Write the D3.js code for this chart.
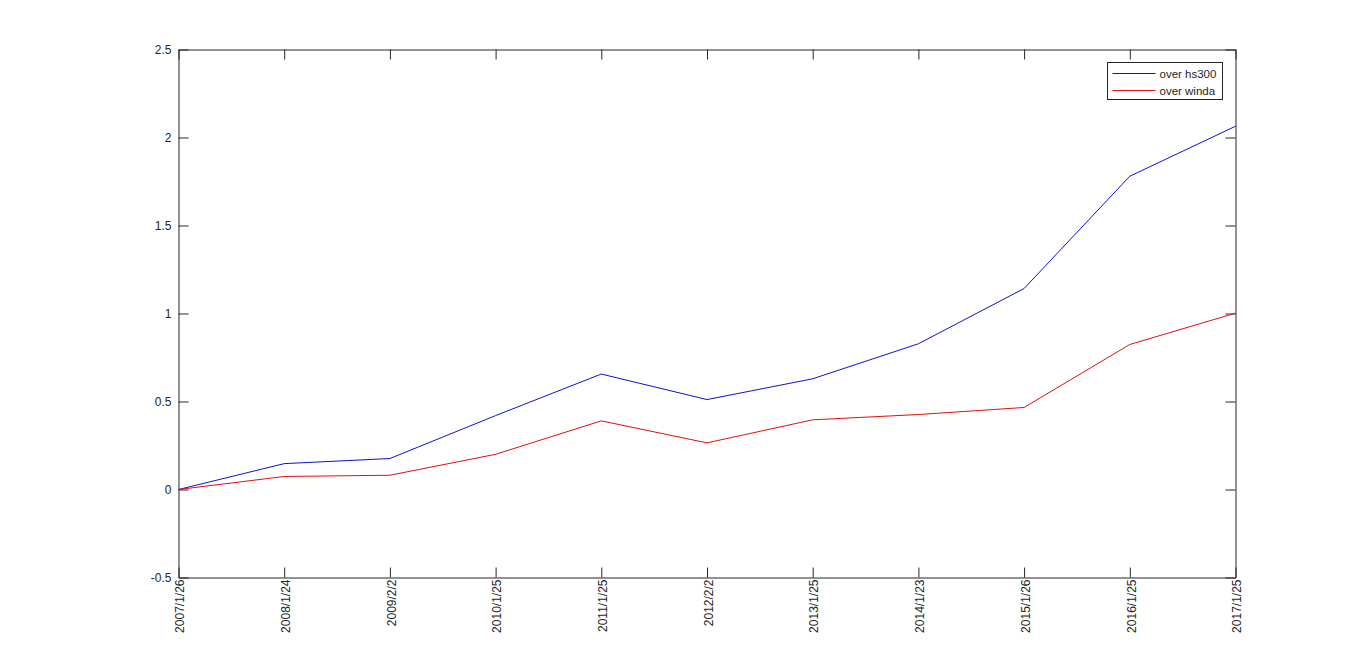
<!DOCTYPE html>
<html>
<head>
<meta charset="utf-8">
<script src="https://cdn.jsdelivr.net/npm/d3@7"></script>
<style>
  html, body { margin: 0; padding: 0; background: #fff; }
  svg { display: block; font-family: "Liberation Sans", Arial, sans-serif; }
  .axis text { fill: #262626; font-size: 12px; }
  .axis line, .axis path { stroke: #262626; }
</style>
</head>
<body>
<svg id="chart"></svg>
<script>
// ── DATA ─────────────────────────────────────────────────────────────────
const dates  = ["2007/1/26", "2008/1/24", "2009/2/2", "2010/1/25", "2011/1/25", "2012/2/2",
                "2013/1/25", "2014/1/23", "2015/1/26", "2016/1/25", "2017/1/25"];
const hs300  = [0, 0.147, 0.176, 0.42, 0.656, 0.511, 0.629, 0.828, 1.142, 1.78, 2.064];
const winda  = [0, 0.074, 0.081, 0.20, 0.39, 0.265, 0.396, 0.426, 0.466, 0.824, 1.002];
const yTicks = [-0.5, 0, 0.5, 1, 1.5, 2, 2.5];
const seriesNames = ["over hs300", "over winda"];

const COLORS = ["#1010d8", "#e01010"];

// ── DIMENSIONS ───────────────────────────────────────────────────────────
const W = 1366, H = 650;
const plot = { left: 178.5, right: 1235.5, top: 49.5, bottom: 577.5 };

const svg = d3.select("#chart")
  .attr("width", W)
  .attr("height", H)
  .attr("viewBox", `0 0 ${W} ${H}`);

// ── SCALES ───────────────────────────────────────────────────────────────
const x = d3.scalePoint().domain(dates).range([plot.left, plot.right]);
const y = d3.scaleLinear().domain([-0.5, 2.5]).range([plot.bottom, plot.top]);

// ── AXES (ticks inward on all four sides, like the box) ────────────────
svg.append("g")
  .attr("class", "axis")
  .attr("transform", `translate(0,${plot.bottom})`)
  .call(d3.axisBottom(x).tickSizeInner(-10).tickSizeOuter(0).tickPadding(2))
  .call(ax => ax.selectAll(".tick text")
    .attr("transform", "rotate(-90)")
    .attr("text-anchor", "end")
    .attr("x", -2)
    .attr("y", 1)
    .attr("dy", "0.35em"));

svg.append("g")
  .attr("class", "axis")
  .attr("transform", `translate(0,${plot.top})`)
  .call(d3.axisTop(x).tickSizeInner(-10).tickSizeOuter(0).tickFormat(""));

svg.append("g")
  .attr("class", "axis")
  .attr("transform", `translate(${plot.left},0)`)
  .call(d3.axisLeft(y).tickValues(yTicks).tickSizeInner(-10).tickSizeOuter(0)
    .tickPadding(7).tickFormat(d => String(d)));

svg.append("g")
  .attr("class", "axis")
  .attr("transform", `translate(${plot.right},0)`)
  .call(d3.axisRight(y).tickValues(yTicks).tickSizeInner(-10).tickSizeOuter(0).tickFormat(""));

// ── LINES ────────────────────────────────────────────────────────────────
const line = d3.line()
  .x((d, i) => x(dates[i]))
  .y(d => y(d));

[hs300, winda].forEach((vals, k) => {
  svg.append("path")
    .datum(vals)
    .attr("fill", "none")
    .attr("stroke", COLORS[k])
    .attr("stroke-width", 1)
    .attr("d", line);
});

// ── LEGEND ───────────────────────────────────────────────────────────────
const lg = svg.append("g").attr("transform", "translate(1107.5,62.5)");
lg.append("rect")
  .attr("width", 115).attr("height", 37)
  .attr("fill", "#fff").attr("stroke", "#262626");
seriesNames.forEach((name, k) => {
  const yy = 11 + k * 17;
  lg.append("line")
    .attr("x1", 5).attr("x2", 48)
    .attr("y1", yy).attr("y2", yy)
    .attr("stroke", COLORS[k]);
  lg.append("text")
    .attr("x", 52).attr("y", yy)
    .attr("dy", "0.35em")
    .style("font-size", "11.5px")
    .style("fill", "#262626")
    .text(name);
});
</script>
</body>
</html>
